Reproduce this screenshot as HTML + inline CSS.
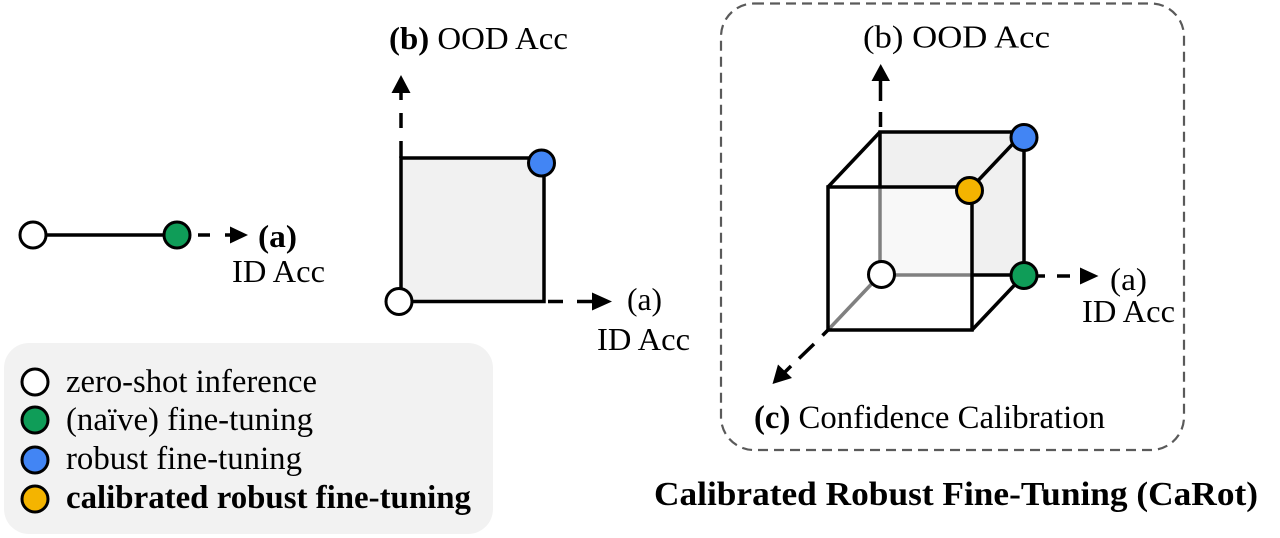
<!DOCTYPE html>
<html>
<head>
<meta charset="utf-8">
<style>
  html, body { margin: 0; padding: 0; background: #ffffff; }
  svg { display: block; }
  text { font-family: "Liberation Serif", "Times New Roman", serif; fill: #000; }
</style>
</head>
<body>
<svg width="1280" height="538" viewBox="0 0 1280 538" xmlns="http://www.w3.org/2000/svg">
  <!-- ============ Panel 1: 1D line ============ -->
  <line x1="33" y1="235" x2="177" y2="235" stroke="#000" stroke-width="3.5"/>
  <line x1="198" y1="235" x2="210" y2="235" stroke="#000" stroke-width="3.5"/>
  <line x1="225" y1="235" x2="233" y2="235" stroke="#000" stroke-width="3.5"/>
  <polygon points="230,226.5 248,235 230,243.5" fill="#000"/>
  <circle cx="33" cy="235" r="13" fill="#fff" stroke="#000" stroke-width="3"/>
  <circle cx="177" cy="235" r="13" fill="#0f9d58" stroke="#000" stroke-width="3"/>
  <text x="258" y="247" font-size="32" font-weight="bold" textLength="39" lengthAdjust="spacingAndGlyphs">(a)</text>
  <text x="232" y="282" font-size="32" textLength="93" lengthAdjust="spacingAndGlyphs">ID Acc</text>

  <!-- ============ Panel 2: square ============ -->
  <rect x="401" y="158" width="143" height="143.5" fill="#f1f1f1" stroke="#000" stroke-width="3.5"/>
  <line x1="401" y1="158" x2="401" y2="141" stroke="#000" stroke-width="3.5"/>
  <line x1="401" y1="128" x2="401" y2="113" stroke="#000" stroke-width="3.5"/>
  <line x1="401" y1="100" x2="401" y2="91" stroke="#000" stroke-width="3.5"/>
  <polygon points="391.5,93 401,75 410.5,93" fill="#000"/>
  <line x1="548" y1="301.5" x2="563" y2="301.5" stroke="#000" stroke-width="3.5"/>
  <line x1="577" y1="301.5" x2="593" y2="301.5" stroke="#000" stroke-width="3.5"/>
  <polygon points="592,292.5 612,301.5 592,310.5" fill="#000"/>
  <circle cx="541.5" cy="163" r="13" fill="#4285f4" stroke="#000" stroke-width="3"/>
  <circle cx="399" cy="301.5" r="13" fill="#fff" stroke="#000" stroke-width="3"/>
  <text x="389" y="49" font-size="32" textLength="179" lengthAdjust="spacingAndGlyphs"><tspan font-weight="bold">(b)</tspan> OOD Acc</text>
  <text x="627" y="310" font-size="32" textLength="35" lengthAdjust="spacingAndGlyphs">(a)</text>
  <text x="597" y="350" font-size="32" textLength="93" lengthAdjust="spacingAndGlyphs">ID Acc</text>

  <!-- ============ Legend ============ -->
  <rect x="4" y="343" width="489" height="191" rx="25" ry="25" fill="#f2f2f2"/>
  <circle cx="35" cy="382" r="13" fill="#fff" stroke="#000" stroke-width="3"/>
  <circle cx="35" cy="420" r="13" fill="#0f9d58" stroke="#000" stroke-width="3"/>
  <circle cx="35" cy="460" r="13" fill="#4285f4" stroke="#000" stroke-width="3"/>
  <circle cx="35" cy="499" r="13" fill="#f4b400" stroke="#000" stroke-width="3"/>
  <text x="66" y="392" font-size="32.5" textLength="251" lengthAdjust="spacingAndGlyphs">zero-shot inference</text>
  <text x="66" y="430" font-size="32.5" textLength="247" lengthAdjust="spacingAndGlyphs">(naïve) fine-tuning</text>
  <text x="66" y="469" font-size="32.5" textLength="236" lengthAdjust="spacingAndGlyphs">robust fine-tuning</text>
  <text x="66" y="508" font-size="32.5" font-weight="bold" textLength="405" lengthAdjust="spacingAndGlyphs">calibrated robust fine-tuning</text>

  <!-- ============ Panel 3: cube ============ -->
  <rect x="721" y="3.5" width="463" height="446.5" rx="33" ry="33" fill="none" stroke="#5a5a5a" stroke-width="2.2" stroke-dasharray="10 6"/>

  <rect x="880" y="132" width="144" height="143" fill="#f0f0f0"/>
  <rect x="828" y="187" width="144" height="143" fill="#ffffff" fill-opacity="0.55"/>

  <line x1="880" y1="187" x2="880" y2="275" stroke="#808080" stroke-width="3.5"/>
  <line x1="880" y1="275" x2="972" y2="275" stroke="#808080" stroke-width="3.5"/>
  <line x1="880" y1="275" x2="828" y2="330" stroke="#808080" stroke-width="3.5"/>

  <line x1="880" y1="132" x2="880" y2="187" stroke="#000" stroke-width="3.5"/>
  <line x1="878.3" y1="132" x2="1024" y2="132" stroke="#000" stroke-width="3.5"/>
  <line x1="1024" y1="132" x2="1024" y2="276.7" stroke="#000" stroke-width="3.5"/>
  <line x1="972" y1="275" x2="1024" y2="275" stroke="#000" stroke-width="3.5"/>
  <line x1="828" y1="187" x2="880" y2="132" stroke="#000" stroke-width="3.5"/>
  <line x1="972" y1="187" x2="1024" y2="132" stroke="#000" stroke-width="3.5"/>
  <line x1="972" y1="330" x2="1024" y2="275" stroke="#000" stroke-width="3.5"/>
  <rect x="828" y="187" width="144" height="143" fill="none" stroke="#000" stroke-width="3.5"/>

  <line x1="880.5" y1="127" x2="880.5" y2="112" stroke="#000" stroke-width="3.5"/>
  <line x1="880.5" y1="101" x2="880.5" y2="78" stroke="#000" stroke-width="3.5"/>
  <polygon points="871.5,81 880.7,64 890,81" fill="#000"/>

  <line x1="1036" y1="276" x2="1045" y2="276" stroke="#000" stroke-width="3.5"/>
  <line x1="1057" y1="276" x2="1070" y2="276" stroke="#000" stroke-width="3.5"/>
  <polygon points="1080,267.5 1098.5,276 1080,284.5" fill="#000"/>

  <line x1="828" y1="330" x2="822.5" y2="335.5" stroke="#000" stroke-width="3.5"/>
  <line x1="814" y1="344" x2="799" y2="358.5" stroke="#000" stroke-width="3.5"/>
  <line x1="791" y1="366" x2="785" y2="372" stroke="#000" stroke-width="3.5"/>
  <polygon points="778,364.5 792,378 772.5,384" fill="#000"/>

  <circle cx="881.5" cy="274.5" r="13" fill="#fff" stroke="#000" stroke-width="3"/>
  <circle cx="1024" cy="275.5" r="13" fill="#0f9d58" stroke="#000" stroke-width="3"/>
  <circle cx="969.5" cy="190.5" r="13" fill="#f4b400" stroke="#000" stroke-width="3"/>
  <circle cx="1024" cy="137.5" r="13" fill="#4285f4" stroke="#000" stroke-width="3"/>

  <text x="863" y="47.5" font-size="32" textLength="187" lengthAdjust="spacingAndGlyphs">(b) OOD Acc</text>
  <text x="1110" y="290" font-size="32" textLength="37" lengthAdjust="spacingAndGlyphs">(a)</text>
  <text x="1082" y="322" font-size="32" textLength="93" lengthAdjust="spacingAndGlyphs">ID Acc</text>
  <text x="754" y="428" font-size="32.5" textLength="351" lengthAdjust="spacingAndGlyphs"><tspan font-weight="bold">(c)</tspan> Confidence Calibration</text>

  <text x="654" y="505" font-size="34" font-weight="bold" textLength="604" lengthAdjust="spacingAndGlyphs">Calibrated Robust Fine-Tuning (CaRot)</text>
</svg>
</body>
</html>
